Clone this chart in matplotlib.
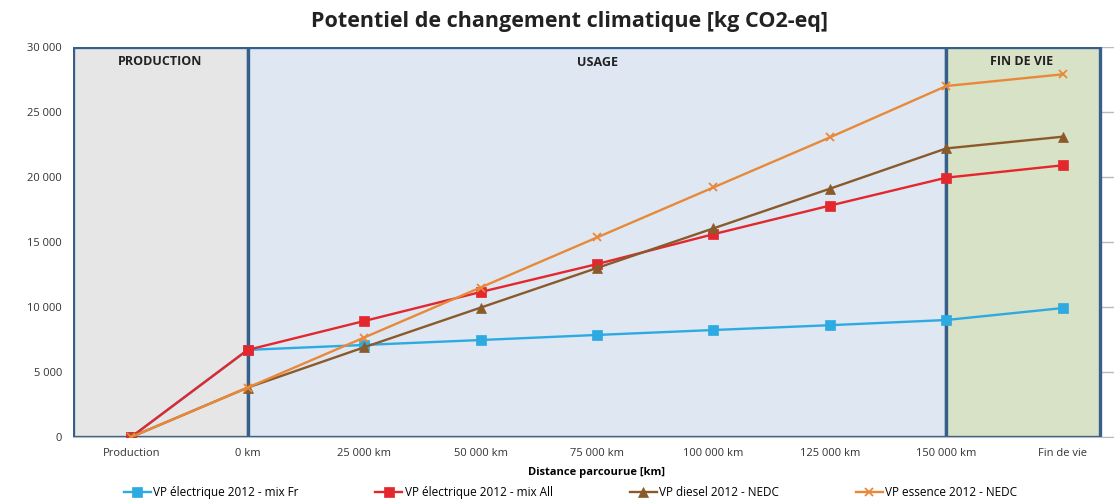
import numpy as np
import matplotlib
matplotlib.use('Agg')
import matplotlib.pyplot as plt
from matplotlib.patches import Rectangle

plt.rcParams['font.family'] = ['Open Sans', 'DejaVu Sans']

# categories on x
categories = ["Production", "0 km", "25 000 km", "50 000 km", "75 000 km",
              "100 000 km", "125 000 km", "150 000 km", "Fin de vie"]

# series (kg CO2-eq)
elec_fr = [0, 6700, 7080, 7460, 7850, 8230, 8600, 9000, 9920]
elec_all = [0, 6700, 8920, 11150, 13300, 15600, 17800, 19950, 20900]
diesel = [0, 3800, 6900, 9950, 13000, 16050, 19100, 22200, 23100]
essence = [0, 3800, 7650, 11500, 15350, 19200, 23050, 27000, 27900]

series_names = ["VP électrique 2012 - mix Fr", "VP électrique 2012 - mix All",
                "VP diesel 2012 - NEDC", "VP essence 2012 - NEDC"]
colors = ["#2DAAE1", "#E3272D", "#8B5A2B", "#E8893A"]
markers = ["s", "s", "^", "x"]

idx = np.arange(len(categories))

fig = plt.figure(figsize=(11.14, 5.04), dpi=100)
ax = fig.add_axes([73/1114, 1-437/504, 1048/1114, 390/504])

# phase boxes
edge = "#365F8C"
ax.add_patch(Rectangle((-0.5, 0), 1.5, 30000, facecolor="#E6E6E6", edgecolor=edge, lw=2.4, zorder=1))
ax.add_patch(Rectangle((1, 0), 6, 30000, facecolor="#DEE7F2", edgecolor=edge, lw=2.4, zorder=1))
ax.add_patch(Rectangle((7, 0), 1.32, 30000, facecolor="#D8E2C6", edgecolor=edge, lw=2.4, zorder=1))

ax.text(0.25, 28900, "PRODUCTION", ha="center", va="center", fontsize=9, fontweight="bold", color="#222222", zorder=5)
ax.text(4, 28800, "USAGE", ha="center", va="center", fontsize=9, fontweight="bold", color="#222222", zorder=5)
ax.text(7.65, 28900, "FIN DE VIE", ha="center", va="center", fontsize=9, fontweight="bold", color="#222222", zorder=5)

data = [elec_fr, elec_all, diesel, essence]
for vals, name, c, m in zip(data, series_names, colors, markers):
    ax.plot(idx, vals, color=c, marker=m, markersize=6.5 if m != "x" else 5.5,
            markeredgewidth=1.3 if m == "x" else 0.5, lw=1.7, label=name, zorder=4)

ax.set_xlim(-0.5, 8.5)
ax.set_ylim(0, 30000)
ax.set_yticks(np.arange(0, 30001, 5000))
ax.set_yticklabels([f"{v:,}".replace(",", " ") for v in range(0, 30001, 5000)], fontsize=8, color="#333333")
ax.set_xticks(idx)
ax.set_xticklabels(categories, fontsize=8, color="#333333")
ax.tick_params(length=0, pad=8)
ax.yaxis.grid(True, color="#BBBBBB", lw=1, zorder=0)
ax.set_axisbelow(True)
for s in ["top", "right", "left"]:
    ax.spines[s].set_visible(False)
ax.spines["bottom"].set_color("#BBBBBB")

ax.set_xlabel("Distance parcourue [km]", fontsize=8, fontweight="bold", labelpad=6)
fig.suptitle("Potentiel de changement climatique [kg CO2-eq]", fontsize=15.5, fontweight="bold",
             x=0.511, y=0.978, color="#222222")

fig.legend(loc="lower center", ncol=4, frameon=False, fontsize=8.5, bbox_to_anchor=(0.512, -0.012),
           handlelength=2.3, handletextpad=0.2, columnspacing=6.5)

fig.savefig("out.png", dpi=100)
